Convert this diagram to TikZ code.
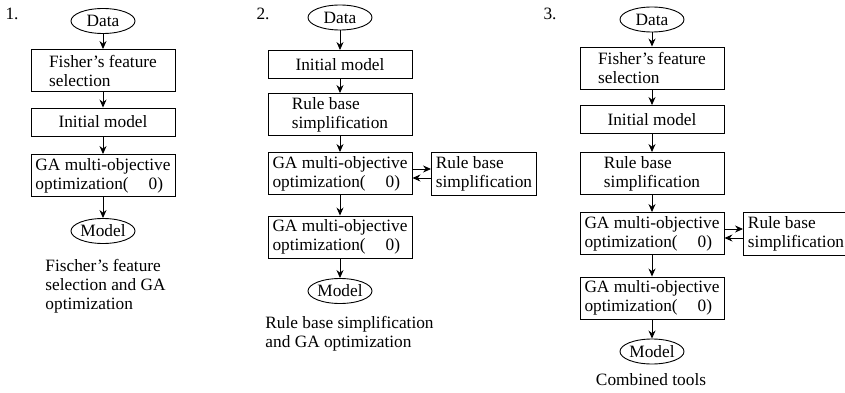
\documentclass[tikz,border=0pt]{standalone}
\usepackage{fontspec}
\setmainfont{Liberation Serif}
\usetikzlibrary{shapes.geometric, positioning, arrows.meta}

\begin{document}
\begin{tikzpicture}[x=1pt, y=-1pt, on grid, >={Stealth[length=8pt, width=7pt]},
  font=\fontsize{17.3}{19}\selectfont, line width=0.9pt,
  box/.style={draw, rectangle, align=left, minimum width=144pt, minimum height=28pt, inner xsep=3pt, inner ysep=2pt},
  tall/.style={box, minimum height=42pt},
  side/.style={draw, rectangle, align=left, minimum width=105pt, minimum height=43pt, inner xsep=2pt},
  term/.style={draw, ellipse, inner sep=0pt, minimum width=64pt, minimum height=25pt},
  caption/.style={align=left, inner sep=0pt}]
  \useasboundingbox (0,0) rectangle (845,393);
  \clip (0,0) rectangle (845,393);
  % 1.
  \node (num1) at (12,14) {1.};
  \node[term] (data1) at (103,21) {Data};
  \node[tall] (fisher1) [below=49.5pt of data1] {Fisher’s feature\\selection};
  \node[box] (init1) [below=51.5pt of fisher1] {Initial model};
  \node[tall] (ga1) [below=53.5pt of init1] {GA multi-objective\\optimization(\hspace{1.15em}0)};
  \node[term] (model1) [below=55.5pt of ga1] {Model};
  \node[caption, anchor=north west] (cap1) at (45,259) {Fischer’s feature\\selection and GA\\optimization};
  \path[->]
  (data1) edge (fisher1)
  (fisher1) edge (init1)
  (init1) edge (ga1)
  (ga1) edge (model1)
  ;
  % 2.
  \node (num2) at (263,14) {2.};
  \node[term] (data2) at (340,17.5) {Data};
  \node[box] (init2) [below=47pt of data2] {Initial model};
  \node[tall] (rule2) [below=50pt of init2] {Rule base\\simplification};
  \node[tall] (ga2) [below=59pt of rule2] {GA multi-objective\\optimization(\hspace{1.15em}0)};
  \node[side] (side2) [right=144pt of ga2] {Rule base\\simplification};
  \node[tall] (final2) [below=63.5pt of ga2] {GA multi-objective\\optimization(\hspace{1.15em}0)};
  \node[term] (model2) [below=54pt of final2] {Model};
  \node[caption, anchor=north west] (cap2) at (265,316) {Rule base simplification\\and GA optimization};
  \path[->]
  (data2) edge (init2)
  (init2) edge (rule2)
  (rule2) edge (ga2)
  (ga2) edge (final2)
  (final2) edge (model2)
  ([yshift=4.5pt]ga2.east) edge ([yshift=4.5pt]side2.west)
  ([yshift=-4.5pt]side2.west) edge ([yshift=-4.5pt]ga2.east)
  ;
  % 3.
  \node (num3) at (550,14) {3.};
  \node[term] (data3) at (652,19.5) {Data};
  \node[tall] (fisher3) [below=48.5pt of data3] {Fisher’s feature\\selection};
  \node[box] (init3) [below=51.5pt of fisher3] {Initial model};
  \node[tall] (rule3) [below=54pt of init3] {Rule base\\simplification};
  \node[tall] (ga3) [below=60pt of rule3] {GA multi-objective\\optimization(\hspace{1.15em}0)};
  \node[side] (side3) [right=144pt of ga3] {Rule base\\simplification};
  \node[tall] (final3) [below=64.5pt of ga3] {GA multi-objective\\optimization(\hspace{1.15em}0)};
  \node[term] (model3) [below=53.5pt of final3] {Model};
  \node[caption] (cap3) at (651,380) {Combined tools};
  \path[->]
  (data3) edge (fisher3)
  (fisher3) edge (init3)
  (init3) edge (rule3)
  (rule3) edge (ga3)
  (ga3) edge (final3)
  (final3) edge (model3)
  ([yshift=4.5pt]ga3.east) edge ([yshift=4.5pt]side3.west)
  ([yshift=-4.5pt]side3.west) edge ([yshift=-4.5pt]ga3.east)
  ;
\end{tikzpicture}
\end{document}
